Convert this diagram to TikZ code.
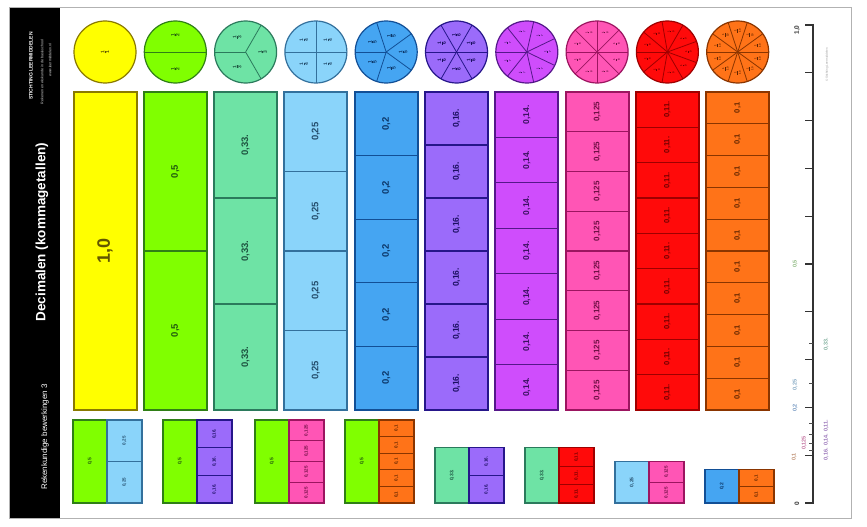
\documentclass[tikz,border=0pt]{standalone}
\usepackage{fontspec}
\setmainfont{Liberation Sans}
\definecolor{cYel}{HTML}{FFFF00}\definecolor{dYel}{HTML}{8A7A00}
\definecolor{cGrn}{HTML}{80FF00}\definecolor{dGrn}{HTML}{2F7F16}
\definecolor{cTea}{HTML}{6EE3A5}\definecolor{dTea}{HTML}{2B7A5C}
\definecolor{cLbl}{HTML}{8AD4FA}\definecolor{dLbl}{HTML}{33709C}
\definecolor{cBlu}{HTML}{45A5F2}\definecolor{dBlu}{HTML}{124F96}
\definecolor{cVio}{HTML}{9B6BFA}\definecolor{dVio}{HTML}{26168A}
\definecolor{cPur}{HTML}{CF4DFC}\definecolor{dPur}{HTML}{55188A}
\definecolor{cPnk}{HTML}{FF55B5}\definecolor{dPnk}{HTML}{9C1560}
\definecolor{cRed}{HTML}{FF0A0A}\definecolor{dRed}{HTML}{9E0000}
\definecolor{cOrg}{HTML}{FF7318}\definecolor{dOrg}{HTML}{8A3500}
\begin{document}
\begin{tikzpicture}[x=1pt,y=-1pt,
  seglabel/.style={rotate=90,inner sep=0pt},
  axlabel/.style={rotate=90,inner sep=0pt,font=\bfseries\fontsize{5.5}{5.5}\selectfont}]
\useasboundingbox (0,0) rectangle (867,527);
\fill[white] (0,0) rectangle (867,527);
\draw[black!30,line width=1pt] (9,8) rectangle (851,518);
\fill[black] (10,8) rectangle (60,518);
% texts in the black bar
\node[seglabel,text=white,font=\bfseries\fontsize{13.5}{13.5}\selectfont] (title) at (42,232) {Decimalen (kommagetallen)};
\node[seglabel,text=white,font=\fontsize{8}{8}\selectfont] (sub) at (45,437) {Rekenkundige bewerkingen 3};
\node[seglabel,text=white,font=\bfseries\fontsize{5}{5}\selectfont] (pub1) at (31,66) {STICHTING LEERMIDDELEN};
\node[seglabel,text=white!85!black,font=\fontsize{3.6}{3.6}\selectfont] (pub2) at (42,72) {Rekenen en wiskunde in de basisschool};
\node[seglabel,text=white!85!black,font=\fontsize{3.6}{3.6}\selectfont] (pub3) at (50,60) {www.leermiddelen.nl};
% circles and bars
\foreach \n/\fc/\dc/\lab/\fs in {
 1/cYel/dYel/{1,0}/18,
 2/cGrn/dGrn/{0,5}/9.5,
 3/cTea/dTea/{0,33.}/9.5,
 4/cLbl/dLbl/{0,25}/9.5,
 5/cBlu/dBlu/{0,2}/9.5,
 6/cVio/dVio/{0,16.}/8.5,
 7/cPur/dPur/{0,14.}/8.5,
 8/cPnk/dPnk/{0,125}/8,
 9/cRed/dRed/{0,11.}/7.5,
 10/cOrg/dOrg/{0,1}/7.5}{
  \pgfmathsetmacro\cx{105+70.3*(\n-1)}
  \pgfmathsetmacro\h{318/\n}
  \pgfmathsetmacro\st{360/\n}
  \pgfmathsetmacro\rr{\n==1 ? 0 : (\n<7 ? 17 : 21)}
  \pgfmathsetmacro\ff{\n<7 ? 6 : 4}
  \draw[fill=\fc,draw=\dc,line width=1.2pt] (\cx,52) circle[radius=31];
  \ifnum\n>1
    \foreach \k in {1,...,\n}{\draw[\dc,line width=0.8pt] (\cx,52) -- ++({180+\st*\k}:31);}
  \fi
  \foreach \k in {1,...,\n}{
    \pgfmathsetmacro\a{180+\st*(\k-0.5)}
    \path (\cx,52) ++(\a:\rr) node[seglabel,text=\dc!70!black,font=\fontsize{\ff}{\ff}\selectfont] (cf-\n-\k) {$\mathbf{\frac{1}{\n}}$};
  }
  \foreach \k in {1,...,\n}{
    \pgfmathsetmacro\yt{92+\h*(\k-1)}
    \draw[fill=\fc,draw=\dc,line width=1.2pt] ({\cx-31.5},\yt) rectangle ++(63,\h);
    \node[seglabel,text=\dc!70!black,font=\bfseries\fontsize{\fs}{\fs}\selectfont] (seg-\n-\k) at (\cx,{\yt+\h/2}) {\lab};
  }
  \draw[draw=\dc,line width=2pt] ({\cx-31.5},92) rectangle ({\cx+31.5},410);
}
% combinations at the bottom
\foreach \x/\lc/\ld/\lh/\ll/\rc/\rd/\rn/\rl [count=\ci] in {
 73/cGrn/dGrn/83/{0,5}/cLbl/dLbl/2/{0,25},
 163/cGrn/dGrn/83/{0,5}/cVio/dVio/3/{0,16.},
 255/cGrn/dGrn/83/{0,5}/cPnk/dPnk/4/{0,125},
 345/cGrn/dGrn/83/{0,5}/cOrg/dOrg/5/{0,1},
 435/cTea/dTea/55.3/{0,33.}/cVio/dVio/2/{0,16.},
 525/cTea/dTea/55.3/{0,33.}/cRed/dRed/3/{0,11.},
 615/cLbl/dLbl/41.5/{0,25}/cPnk/dPnk/2/{0,125},
 705/cBlu/dBlu/33.2/{0,2}/cOrg/dOrg/2/{0,1}}{
  \draw[fill=\lc,draw=\ld,line width=1.1pt] (\x,503) rectangle ++(34,-\lh);
  \node[seglabel,text=\ld!70!black,font=\bfseries\fontsize{5}{5}\selectfont] (cl-\ci) at ({\x+17},{503-\lh/2}) {\ll};
  \pgfmathsetmacro\sh{\lh/\rn}
  \foreach \j in {1,...,\rn}{
    \draw[fill=\rc,draw=\rd,line width=1.1pt] ({\x+34},{503-\sh*(\j-1)}) rectangle ++(35,-\sh);
    \node[seglabel,text=\rd!70!black,font=\bfseries\fontsize{4.5}{4.5}\selectfont] (cr-\ci-\j) at ({\x+51.5},{503-\sh*(\j-0.5)}) {\rl};
  }
}
% number line
\coordinate (axtop) at (813,24);
\coordinate (axbot) at (813,504);
\draw[black!80,line width=1.3pt] (axtop) -- (axbot);
\foreach \k in {0,...,10}{
  \draw[black!80,line width=1.1pt] (813,{503-47.8*\k}) -- ++(-8,0);
}
\foreach \d in {3,4,6,7,8,9}{
  \draw[black!70,line width=0.7pt] (813,{503-478/\d}) -- ++(-4,0);
}
\node[axlabel,text=black!80,font=\bfseries\fontsize{6.5}{6.5}\selectfont] (l10) at (797,30) {1,0};
\node[axlabel,text=black!80,font=\bfseries\fontsize{6.5}{6.5}\selectfont] (l0) at (797,504) {0};
\node[axlabel,text=dGrn!55!white] (l5) at (795,264) {0,5};
\node[axlabel,text=dTea!60!white] (l33) at (826,344) {0,33.};
\node[axlabel,text=dLbl!60!white] (l25) at (795,385) {0,25};
\node[axlabel,text=dBlu!60!white] (l2) at (795,408) {0,2};
\node[axlabel,text=dPnk!60!white] (l125) at (804,443) {0,125};
\node[axlabel,text=dOrg!55!white] (l1) at (794,457) {0,1};
\node[axlabel,text=dPur!60!white] (l16) at (826,440) {0,16. 0,14. 0,11.};
\node[seglabel,text=black!40,font=\fontsize{3}{3}\selectfont] (copy) at (827,65) {© Stichting Leermiddelen};
\end{tikzpicture}
\end{document}
